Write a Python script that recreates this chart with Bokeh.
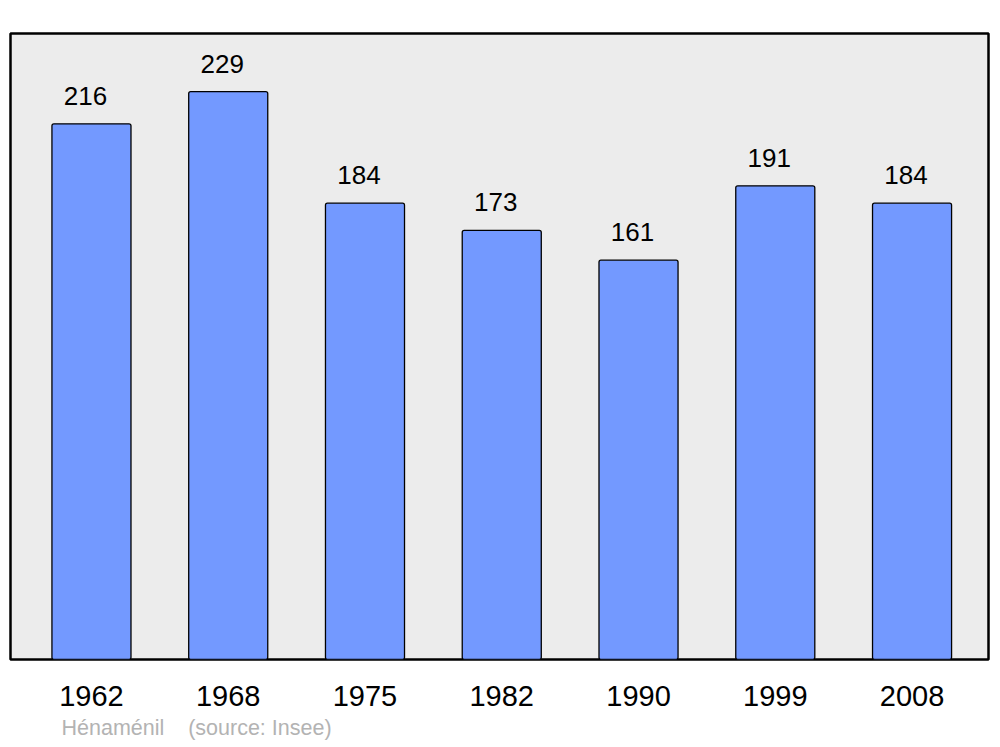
from bokeh.plotting import figure
from bokeh.models import Range1d, FixedTicker, Title
from bokeh.core.properties import value
from bokeh.embed import file_html
from bokeh.resources import INLINE

years = ["1962", "1968", "1975", "1982", "1990", "1999", "2008"]
population = [216, 229, 184, 173, 161, 191, 184]
idx = list(range(len(years)))
labels = [str(v) for v in population]

FONT = "Liberation Sans"

p = figure(frame_width=978, frame_height=626,
           x_range=Range1d(-0.592, 6.559), y_range=Range1d(0, 252.4),
           output_backend="svg", toolbar_location=None,
           min_border_left=10, min_border_right=3, min_border_top=33, min_border_bottom=0)
p.background_fill_color = "#ececec"
p.border_fill_color = "white"
p.outline_line_color = "black"
p.outline_line_width = 2.5
p.xgrid.visible = False
p.ygrid.visible = False
p.yaxis.visible = False

p.vbar(x=idx, top=population, bottom=0, width=0.578, fill_color="#7399ff",
       line_color="black", line_width=1.3, border_radius=2)

p.text(x=idx, y=population, text=labels, x_offset=-6, y_offset=-28,
       text_align="center", text_baseline="middle", text_font=value(FONT),
       text_font_size="26px", text_color="black")

ax = p.xaxis[0]
ax.ticker = FixedTicker(ticks=idx)
ax.major_label_overrides = {i: y for i, y in zip(idx, years)}
ax.axis_line_color = None
ax.major_tick_line_color = None
ax.minor_tick_line_color = None
ax.major_tick_out = 0
ax.major_tick_in = 0
ax.major_label_standoff = 26
ax.major_label_text_font = FONT
ax.major_label_text_font_size = "29px"
ax.major_label_text_color = "black"

src = Title(text="Hénaménil\u00a0\u00a0\u00a0\u00a0(source: Insee)", align="left",
            offset=51, text_font=FONT, text_font_size="21.5px", text_font_style="normal",
            text_color="#b3b3b3", standoff=10)
p.add_layout(src, "below")

open("out.html", "w").write(file_html(p, INLINE))
